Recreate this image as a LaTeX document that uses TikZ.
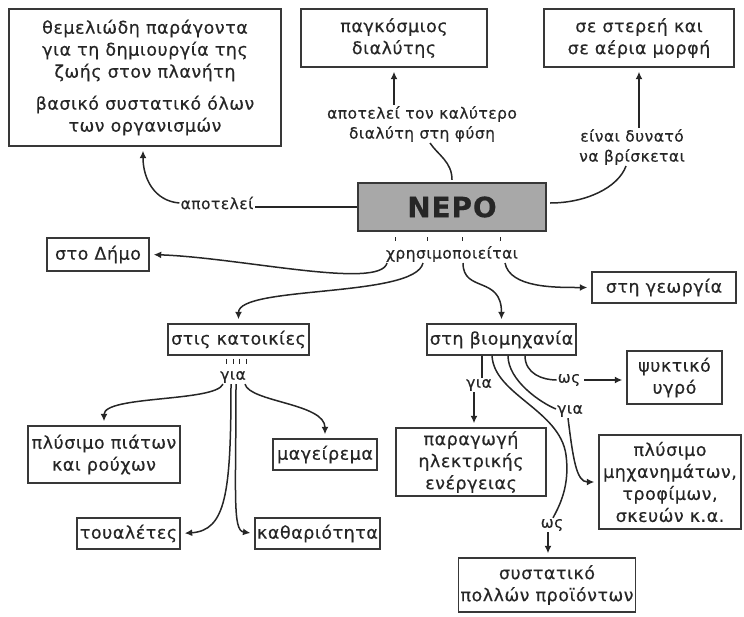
\documentclass[tikz,border=0pt]{standalone}
\usepackage{fontspec}
\setmainfont[LetterSpace=3,FakeBold=0.4]{DejaVu Sans}
\usepackage{xcolor}
\usepackage{tikz}
\usetikzlibrary{arrows.meta}
\definecolor{inkx}{HTML}{262626}
\definecolor{edgex}{HTML}{383838}
\definecolor{greyx}{HTML}{A8A8A8}
\tikzset{
  ln/.style={line width=1.5pt,inkx},
  ar/.style={-{Latex[length=7.5pt,width=7pt]},line width=1.5pt,inkx,shorten >=4pt},
  box/.style={draw=edgex,line width=1.4pt,align=center,inner sep=2pt,text=inkx,font=\fontsize{17.5}{22}\selectfont},
  lbl/.style={align=center,inner sep=1pt,text=inkx,font=\fontsize{15.5}{20}\selectfont}
}

\begin{document}
\begin{tikzpicture}[x=1pt,y=-1pt]
\useasboundingbox (0,0) rectangle (744,616);
% centre
\node[box,fill=greyx,line width=2.4pt,minimum width=188pt,minimum height=48pt,
  font=\fontsize{28}{30}\selectfont\bfseries] (nero) at (452,207) {ΝΕΡΟ};
% upper row
\node[box,minimum width=272pt,minimum height=137pt] (base) at (145,77.5)
  {θεμελιώδη παράγοντα\\για τη δημιουργία της\\ζωής στον πλανήτη\\[10pt]βασικό συστατικό όλων\\των οργανισμών};
\node[box,minimum width=186pt,minimum height=58pt] (solv) at (394,38) {παγκόσμιος\\διαλύτης};
\node[box,minimum width=190pt,minimum height=58pt] (states) at (639,38) {σε στερεή και\\σε αέρια μορφή};
\node[lbl] (lblconst) at (217,203) {αποτελεί};
\node[lbl] (lblbest) at (422,124) {αποτελεί τον καλύτερο\\διαλύτη στη φύση};
\node[lbl] (lblposs) at (632,147) {είναι δυνατό\\να βρίσκεται};
\node[lbl] (lbluse) at (452,254) {χρησιμοποιείται};
% uses
\node[box,minimum width=102pt,minimum height=33pt] (dimo) at (98,254.5) {στο Δήμο};
\node[box,minimum width=141pt,minimum height=31pt] (homes) at (238.5,339.5) {στις κατοικίες};
\node[box,minimum width=144pt,minimum height=31pt] (agri) at (664,287.5) {στη γεωργία};
\node[box,minimum width=149pt,minimum height=31pt] (indus) at (501.5,339.5) {στη βιομηχανία};
% homes
\node[lbl] (lblfor1) at (233,377) {για};
\node[box,minimum width=152pt,minimum height=57pt] (dishes) at (104,454.5) {πλύσιμο πιάτων\\και ρούχων};
\node[box,minimum width=104pt,minimum height=31pt] (cook) at (325,454.5) {μαγείρεμα};
\node[box,minimum width=103pt,minimum height=31pt] (wc) at (128.5,533.5) {τουαλέτες};
\node[box,minimum width=117pt,minimum height=31pt] (clean) at (317.5,533.5) {καθαριότητα};
% industry
\node[lbl] (lblfor2) at (479,385) {για};
\node[lbl] (lblas1) at (569,380) {ως};
\node[lbl] (lblfor3) at (570,411) {για};
\node[lbl] (lblas2) at (552,525) {ως};
\node[box,minimum width=95pt,minimum height=53pt] (cool) at (674.5,377.5) {ψυκτικό\\υγρό};
\node[box,minimum width=150pt,minimum height=68pt] (power) at (471,462) {παραγωγή\\ηλεκτρικής\\ενέργειας};
\node[box,minimum width=142pt,minimum height=94pt] (wash) at (670,482) {πλύσιμο\\μηχανημάτων,\\τροφίμων,\\σκευών κ.α.};
\node[box,minimum width=176pt,minimum height=54pt] (ingr) at (547,585) {συστατικό\\πολλών προϊόντων};

% upper links
\draw[ln] (nero.west) -- (nero.west -| lblconst.east);
\draw[ar] (lblconst.west) .. controls +(-25,-2) and +(0,32) .. ([xshift=-2pt]base.south);
\draw[ln] ([yshift=2pt]nero.north) .. controls +(0,-18) and +(8,12) .. ([xshift=8pt]lblbest.south);
\draw[ar] (lblbest.north -| solv.south) -- (solv.south);
\draw[ln] ([xshift=3pt,yshift=4pt]nero.east) .. controls +(35,0) and +(-8,22) .. ([xshift=-6pt]lblposs.south);
\draw[ar] (lblposs.north -| states.south) -- (states.south);
\foreach \dx in {-57,-25,10,48}
  \draw[ln,line width=1pt] ([xshift=\dx pt,yshift=-5pt]nero.south) -- ++(0,4);
% uses
\draw[ar] ([xshift=-65pt]lbluse.south) .. controls +(-7,27) and +(90,3) .. (dimo.east);
\draw[ar] ([xshift=-29pt]lbluse.south) .. controls +(-8,35) and +(0,-38) .. (homes.north);
\draw[ar] ([xshift=11pt]lbluse.south) .. controls +(0,30) and +(0,-48) .. (indus.north);
\draw[ar] ([xshift=53pt]lbluse.south) .. controls +(5,25) and +(-36,0) .. (agri.west);
% homes
\foreach \dx in {-12,-5,1,8}
  \draw[ln,line width=1pt] ([xshift=\dx pt,yshift=-3pt]homes.south) -- ++(0,5);
\draw[ar] ([xshift=-10pt]lblfor1.south) .. controls +(-8,18) and +(0,-30) .. (dishes.north);
\draw[ar] ([xshift=-2pt]lblfor1.south) .. controls +(0,110) and +(45,-3) .. (wc.east);
\draw[ar] ([xshift=3pt]lblfor1.south) .. controls +(0,110) and +(-22,-3) .. (clean.west);
\draw[ar] ([xshift=12pt]lblfor1.south) .. controls +(5,18) and +(0,-35) .. (cook.north);
% industry
\draw[ln] ([xshift=3pt]lblfor2.north |- indus.south) -- ([xshift=3pt]lblfor2.north);
\draw[ar] ([xshift=-5pt]lblfor2.south) -- ([xshift=-5pt]lblfor2.south |- power.north);
\draw[ln] ([xshift=-9.5pt]indus.south) .. controls +(2,39) and (560,410) .. (566,455)
  .. controls (570,485) and (560,505) .. ([xshift=1pt]lblas2.north);
\draw[ar] ([xshift=-4pt]lblas2.south) -- ([xshift=-4pt]lblas2.south |- ingr.north);
\draw[ln] ([xshift=6.5pt]indus.south) .. controls +(0,25) and +(-15,-6) .. ([yshift=2pt]lblfor3.west);
\draw[ar] ([xshift=-2pt]lblfor3.south) .. controls +(5,40) and +(-22,0) .. (wash.west);
\draw[ln] ([xshift=23.5pt]indus.south) .. controls +(0,18) and +(-14,0) .. (lblas1.west);
\draw[ar] ([xshift=3pt]lblas1.east) -- (cool.west |- lblas1.east);
\end{tikzpicture}
\end{document}
